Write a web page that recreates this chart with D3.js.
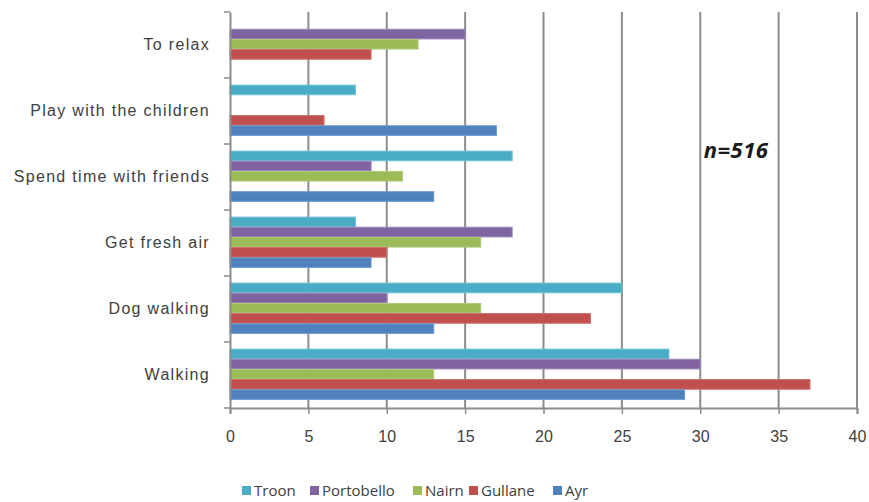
<!DOCTYPE html>
<html>
<head>
<meta charset="utf-8">
<script src="https://cdn.jsdelivr.net/npm/d3@7/dist/d3.min.js"></script>
<style>
  html, body { margin: 0; padding: 0; background: #fff; }
  svg { display: block; font-family: "Open Sans", Lato, sans-serif; }
</style>
</head>
<body>
<svg id="chart" width="869" height="502"></svg>
<script>
// Activities, listed bottom to top on the chart
const categories = ["Walking", "Dog walking", "Get fresh air", "Spend time with friends", "Play with the children", "To relax"];
// Series, listed top to bottom within each group
const seriesNames = ["Troon", "Portobello", "Nairn", "Gullane", "Ayr"];
const troon      = [28, 25,  8, 18, 8,  0];
const portobello = [30, 10, 18,  9, 0, 15];
const nairn      = [13, 16, 16, 11, 0, 12];
const gullane    = [37, 23, 10,  0, 6,  9];
const ayr        = [29, 13,  9, 13, 17, 0];
const seriesValues = [troon, portobello, nairn, gullane, ayr];
const xTicks = [0, 5, 10, 15, 20, 25, 30, 35, 40];
const colors = ["#4BACC6", "#8064A2", "#9BBB59", "#C0504D", "#4F81BD"];
const borders = ["#6cc0d6", "#9a82b8", "#b0cd7a", "#d06c69", "#6e9ad0"];

const svg = d3.select("#chart");
const plotLeft = 230, plotRight = 857, plotTop = 12, plotBottom = 408;

const x = d3.scaleLinear().domain([0, 40]).range([plotLeft, plotRight]);
const y = d3.scaleBand().domain(categories.slice().reverse()).range([plotTop, plotBottom]);
const inner = d3.scaleBand().domain(seriesNames)
  .range([-1, y.bandwidth() - 1]).paddingOuter(0.75).paddingInner(0);

// vertical gridlines
svg.append("g").selectAll("line")
  .data(xTicks.filter(d => d > 0))
  .join("line")
  .attr("x1", d => x(d)).attr("x2", d => x(d))
  .attr("y1", plotTop).attr("y2", plotBottom)
  .attr("stroke", "#8c8c8c").attr("stroke-width", 2);

// bars
const rows = [];
categories.forEach((c, ci) => {
  seriesNames.forEach((s, si) => {
    rows.push({ cat: c, series: s, si, value: seriesValues[si][ci] });
  });
});
svg.append("g").selectAll("rect")
  .data(rows.filter(d => d.value > 0))
  .join("rect")
  .attr("x", x(0))
  .attr("y", d => y(d.cat) + inner(d.series) + 0.5)
  .attr("width", d => x(d.value) - x(0))
  .attr("height", inner.bandwidth() - 0.5)
  .attr("fill", d => colors[d.si])
  .attr("stroke", d => borders[d.si])
  .attr("stroke-width", 1);

// x axis
const xAxis = svg.append("g")
  .attr("transform", `translate(0,${plotBottom})`)
  .call(d3.axisBottom(x).tickValues(xTicks).tickSize(6).tickPadding(17));
xAxis.select(".domain").attr("stroke", "#8c8c8c").attr("stroke-width", 2);
xAxis.selectAll(".tick line").attr("stroke", "#8c8c8c").attr("stroke-width", 1.5);
xAxis.selectAll("text").attr("font-size", 16).attr("fill", "#404040");

// y axis
const yAxis = svg.append("g")
  .attr("transform", `translate(${plotLeft},0)`)
  .call(d3.axisLeft(y).tickSize(0).tickPadding(20));
yAxis.select(".domain").attr("stroke", "#8c8c8c").attr("stroke-width", 2);
yAxis.selectAll("text")
  .attr("font-size", 16).attr("letter-spacing", 1.3).attr("fill", "#404040");
// category boundary ticks
svg.append("g").selectAll("line")
  .data(d3.range(categories.length + 1))
  .join("line")
  .attr("x1", plotLeft - 6).attr("x2", plotLeft)
  .attr("y1", i => plotTop + i * y.step()).attr("y2", i => plotTop + i * y.step())
  .attr("stroke", "#8c8c8c").attr("stroke-width", 1.5);

// sample size note
svg.append("text")
  .attr("x", 736).attr("y", 158)
  .attr("text-anchor", "middle")
  .attr("font-size", 22).attr("font-weight", "bold").attr("font-style", "italic")
  .attr("letter-spacing", 0.5)
  .attr("fill", "#1a1a1a")
  .text("n=516");

// legend
const legendX = [242, 310, 413, 469, 553];
const legend = svg.append("g").selectAll("g")
  .data(seriesNames)
  .join("g")
  .attr("transform", (d, i) => `translate(${legendX[i]},491)`);
legend.append("rect")
  .attr("x", 0).attr("y", -5).attr("width", 9).attr("height", 9)
  .attr("fill", (d, i) => colors[i]);
legend.append("text")
  .attr("x", 12).attr("y", 5)
  .attr("font-size", 15).attr("fill", "#404040")
  .text(d => d);
</script>
</body>
</html>
